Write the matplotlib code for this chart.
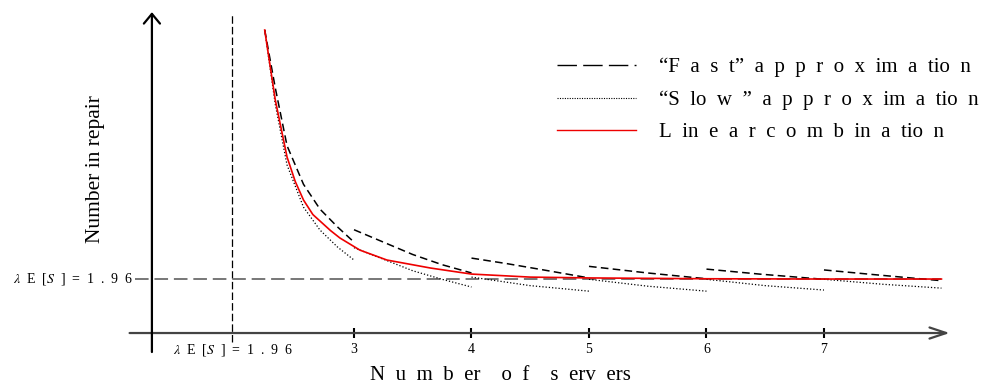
import matplotlib
matplotlib.use("Agg")
import matplotlib.pyplot as plt
from matplotlib.lines import Line2D

plt.rcParams['font.family'] = ['Liberation Serif', 'DejaVu Serif']
plt.rcParams['mathtext.fontset'] = 'stix'

# offered load  lambda*E[S]
load = 1.96

# "fast" approximation, one piece per integer number of servers
fast_x = [[2.24, 2.33, 2.43, 2.57, 2.71, 2.86, 3.0],
          [3.0, 3.25, 3.5, 3.75, 4.0],
          [4.0, 4.3, 4.6, 5.0],
          [5.0, 5.5, 6.0],
          [6.0, 6.45, 7.0],
          [7.0, 7.4, 8.0]]
fast_y = [[11.0, 8.9, 6.8, 5.4, 4.5, 3.85, 3.3],
          [3.75, 3.3, 2.85, 2.48, 2.18],
          [2.72, 2.52, 2.3, 2.0],
          [2.42, 2.18, 1.97],
          [2.32, 2.14, 1.95],
          [2.29, 2.13, 1.9]]

# "slow" approximation
slow_x = [[2.24, 2.33, 2.43, 2.57, 2.71, 2.86, 3.0],
          [3.0, 3.25, 3.5, 3.75, 4.0],
          [4.0, 4.5, 5.0],
          [5.0, 5.5, 6.0],
          [6.0, 6.5, 7.0],
          [7.0, 7.5, 8.0]]
slow_y = [[11.0, 8.3, 6.1, 4.57, 3.74, 3.12, 2.65],
          [3.1, 2.68, 2.26, 1.95, 1.67],
          [2.03, 1.72, 1.52],
          [1.95, 1.70, 1.52],
          [1.95, 1.72, 1.56],
          [1.95, 1.77, 1.63]]

# linear combination of the two
combo_x = [2.24, 2.33, 2.43, 2.50, 2.57, 2.65, 2.80, 2.88, 3.05, 3.28, 3.65,
           4.0, 4.5, 5.0, 6.0, 7.0, 8.0]
combo_y = [11.0, 8.46, 6.39, 5.5, 4.83, 4.3, 3.72, 3.45, 3.01, 2.65, 2.36,
           2.14, 2.03, 2.0, 1.97, 1.96, 1.96]

ticks = [3, 4, 5, 6, 7]
tick_labels = ['3', '4', '5', '6', '7']

load_label = r'$\lambda$ E [$S$ ] = 1 . 9 6'
legend_labels = ['“F a s t” a p p r o x im a tio n',
                 '“S lo w ” a p p r o x im a tio n',
                 'L in e a r c o m b in a tio n']
xlabel = 'N u m b er  o f  s erv ers'


def spread(s):
    # wide letter spacing: every gap becomes an en space
    return s.replace(' ', '\u2002')


fig = plt.figure(figsize=(9.82, 3.85), dpi=100)
ax = fig.add_axes([0, 0, 1, 1])
ax.set_xlim(-0.013, 8.345)
ax.set_ylim(-1.887, 12.09)
ax.axis('off')

# axes drawn by hand, with open arrow heads
ax.annotate('', xy=(8.07, 0), xytext=(1.09, 0),
            arrowprops=dict(arrowstyle='->,head_length=0.6,head_width=0.2',
                            lw=1.6, color='#444444', mutation_scale=20,
                            shrinkA=0, shrinkB=0))
ax.annotate('', xy=(1.28, 11.65), xytext=(1.28, -0.69),
            arrowprops=dict(arrowstyle='->,head_length=0.35,head_width=0.29',
                            lw=1.6, color='black', mutation_scale=20,
                            shrinkA=0, shrinkB=0))
ax.vlines(ticks, -0.18, 0.18, color='black', lw=1.5)
for t, lab in zip(ticks, tick_labels):
    ax.text(t, -0.6, lab, ha='center', va='center', fontsize=10)

# reference lines at the offered load
ax.plot([load, load], [-0.33, 11.6], color='black', lw=0.9, dashes=(6, 2.5))
ax.plot([1.14, 8.0], [load, load], color='#777777', lw=1.4, dashes=(7, 3))

for xs, ys in zip(fast_x, fast_y):
    ax.plot(xs, ys, color='black', lw=1.1, dashes=(5, 2.8))
for xs, ys in zip(slow_x, slow_y):
    ax.plot(xs, ys, color='black', lw=0.9, dashes=(1, 1.6))
ax.plot(combo_x, combo_y, color='#ee0000', lw=1.2)

ax.text(1.12, load, spread(load_label), ha='right', va='center', fontsize=10)
ax.text(1.46, -0.62, spread(load_label), ha='left', va='center', fontsize=10)
ax.text(4.25, -1.55, spread(xlabel), ha='center', va='center', fontsize=15)
ax.text(0.80, 5.95, 'Number in repair', ha='center', va='center',
        rotation=90, fontsize=15.5)

handles = [Line2D([], [], color='black', lw=1.0, dashes=(14, 4.5)),
           Line2D([], [], color='black', lw=0.8, dashes=(1, 1.2)),
           Line2D([], [], color='#ee0000', lw=1.0)]
ax.legend(handles, [spread(s) for s in legend_labels], loc='upper left',
          bbox_to_anchor=(0.567, 0.85), bbox_transform=fig.transFigure,
          frameon=False, fontsize=15, handlelength=3.8, handletextpad=1.1,
          labelspacing=0.62, borderpad=0, borderaxespad=0)

fig.savefig('out.png', dpi=100)
